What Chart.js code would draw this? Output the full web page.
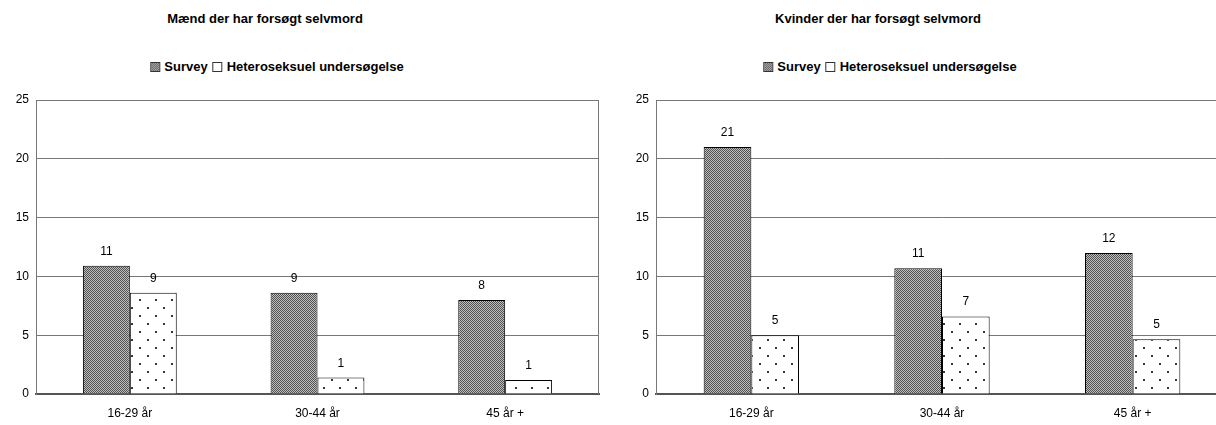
<!DOCTYPE html>
<html>
<head>
<meta charset="utf-8">
<script src="https://cdn.jsdelivr.net/npm/chart.js@4.4.1/dist/chart.umd.min.js"></script>
<style>
  html, body { margin: 0; padding: 0; background: #fff; overflow: hidden; }
  body { width: 1216px; height: 425px; position: relative; font-family: 'Liberation Sans', Arial, sans-serif; }
  .title, .legend { position: absolute; font-weight: bold; font-size: 13px; color: #000; white-space: nowrap; transform: translateX(-50%); }
  .title { top: 11px; }
  .legend { top: 59px; }
  .box { display: inline-block; width: 8px; height: 8px; border: 1px solid #333; vertical-align: -1px; margin-right: 4px; }
  .box.survey { background: repeating-conic-gradient(#505050 0 25%, #c0c0c0 0 50%) 0 0 / 2px 2px; }
  .box.hetero { background: #fff; margin-left: 5px; }
  .wrap { position: absolute; top: 0; height: 425px; }
</style>
</head>
<body>

<div class="title" style="left:265px">Mænd der har forsøgt selvmord</div>
<div class="legend" style="left:277px"><span class="box survey"></span>Survey<span class="box hetero"></span>Heteroseksuel undersøgelse</div>
<div class="title" style="left:878px">Kvinder der har forsøgt selvmord</div>
<div class="legend" style="left:890px"><span class="box survey"></span>Survey<span class="box hetero"></span>Heteroseksuel undersøgelse</div>

<div class="wrap" style="left:0; width:600px"><canvas id="maend"></canvas></div>
<div class="wrap" style="left:620px; width:620px"><canvas id="kvinder"></canvas></div>

<script>
// data (labels show rounded values)
const categories = ['16-29 år', '30-44 år', '45 år +'];
const seriesNames = ['Survey', 'Heteroseksuel undersøgelse'];
const maendSurvey = [10.9, 8.6, 8.0];
const maendHetero = [8.6, 1.4, 1.2];
const kvinderSurvey = [21.0, 10.7, 12.0];
const kvinderHetero = [5.0, 6.6, 4.65];
const yMin = 0, yMax = 25, yStep = 5;

Chart.defaults.font.family = "'Liberation Sans', Arial, sans-serif";
Chart.defaults.font.size = 12;
Chart.defaults.color = '#000';

// dark checker fill for the survey bars
function checkerPattern(ctx) {
    const c = document.createElement('canvas');
    c.width = 2; c.height = 2;
    const p = c.getContext('2d');
    p.fillStyle = '#c0c0c0';
    p.fillRect(0, 0, 2, 2);
    p.fillStyle = '#505050';
    p.fillRect(0, 0, 1, 1);
    p.fillRect(1, 1, 1, 1);
    return ctx.createPattern(c, 'repeat');
}

// sparse staggered dots for the hetero bars
function dotPattern(ctx) {
    const c = document.createElement('canvas');
    c.width = 16; c.height = 16;
    const p = c.getContext('2d');
    p.fillStyle = '#fff';
    p.fillRect(0, 0, 16, 16);
    p.fillStyle = '#333';
    p.fillRect(3, 3, 2, 2);
    p.fillRect(11, 11, 2, 2);
    return ctx.createPattern(c, 'repeat');
}

// rounded value above each bar
const valueLabels = {
    id: 'valueLabels',
    afterDatasetsDraw(chart) {
        const ctx = chart.ctx;
        ctx.save();
        ctx.font = "12px 'Liberation Sans', Arial, sans-serif";
        ctx.fillStyle = '#000';
        ctx.textAlign = 'center';
        ctx.textBaseline = 'alphabetic';
        chart.data.datasets.forEach((ds, i) => {
            chart.getDatasetMeta(i).data.forEach((bar, j) => {
                ctx.fillText(String(Math.round(ds.data[j])), bar.x, bar.y - 11);
            });
        });
        ctx.restore();
    }
};

// grey frame round the plot area
const plotFrame = {
    id: 'plotFrame',
    beforeDatasetsDraw(chart) {
        const a = chart.chartArea;
        const ctx = chart.ctx;
        ctx.save();
        ctx.strokeStyle = '#777';
        ctx.lineWidth = 1;
        ctx.beginPath();
        ctx.moveTo(a.left, a.top + 0.5);
        ctx.lineTo(a.right - 0.5, a.top + 0.5);
        ctx.lineTo(a.right - 0.5, a.bottom);
        ctx.stroke();
        ctx.restore();
    }
};

function makeChart(id, survey, hetero, padRight) {
    const canvas = document.getElementById(id);
    const ctx = canvas.getContext('2d');
    return new Chart(ctx, {
        type: 'bar',
        data: {
            labels: categories,
            datasets: [
                {
                    label: seriesNames[0],
                    data: survey,
                    backgroundColor: checkerPattern(ctx),
                    borderColor: '#000',
                    borderWidth: 1
                },
                {
                    label: seriesNames[1],
                    data: hetero,
                    backgroundColor: dotPattern(ctx),
                    borderColor: '#000',
                    borderWidth: 1
                }
            ]
        },
        options: {
            responsive: true,
            maintainAspectRatio: false,
            animation: false,
            layout: { padding: { top: 100, right: padRight, left: 0, bottom: 0 } },
            plugins: {
                legend: { display: false },
                title: { display: false },
                tooltip: { enabled: false }
            },
            datasets: {
                bar: { barPercentage: 1.0, categoryPercentage: 0.5 }
            },
            scales: {
                x: {
                    grid: { display: false, drawTicks: false },
                    border: { color: '#555', width: 2 },
                    ticks: { padding: 12, color: '#000', maxRotation: 0 },
                    afterFit: s => { s.height = 31; }
                },
                y: {
                    min: yMin,
                    max: yMax,
                    ticks: { stepSize: yStep, padding: 7, color: '#000' },
                    grid: { color: '#777', lineWidth: 1, drawTicks: false },
                    border: { color: '#777', width: 1 },
                    afterFit: s => { s.width = 36; }
                }
            }
        },
        plugins: [plotFrame, valueLabels]
    });
}

makeChart('maend', maendSurvey, maendHetero, 1);
makeChart('kvinder', kvinderSurvey, kvinderHetero, 12);
</script>
</body>
</html>
